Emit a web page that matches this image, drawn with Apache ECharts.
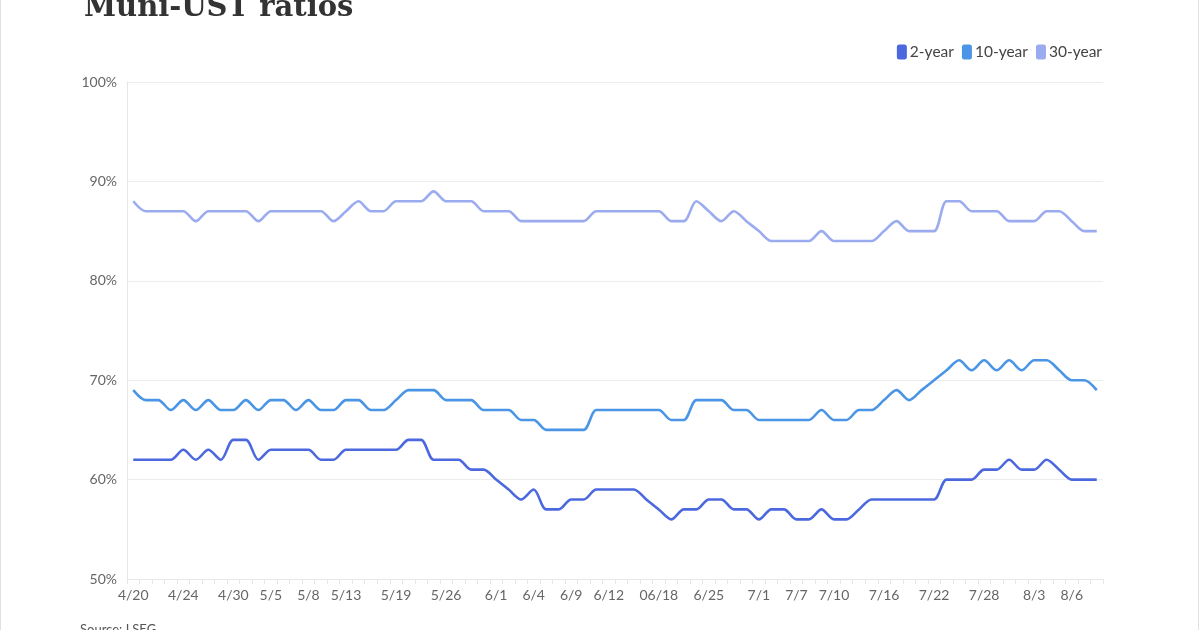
<!DOCTYPE html>
<html>
<head>
<meta charset="utf-8">
<script src="https://cdn.jsdelivr.net/npm/echarts@6/dist/echarts.min.js"></script>
<style>
html,body{margin:0;padding:0;background:#fff;}
#chart{width:1200px;height:630px;}
</style>
</head>
<body>
<div id="chart"></div>
<script>
const dates = ["4/20","4/21","4/22","4/23","4/24","4/27","4/28","4/29","4/30","5/1",
"5/4","5/5","5/6","5/7","5/8","5/11","5/12","5/13","5/14","5/15",
"5/18","5/19","5/20","5/21","5/22","5/26","5/27","5/28","5/29","6/1",
"6/2","6/3","6/4","6/5","6/8","6/9","6/10","6/11","6/12","6/15",
"6/16","6/17","06/18","6/19","6/22","6/24","6/25","6/26","6/29","6/30",
"7/1","7/2","7/6","7/7","7/8","7/9","7/10","7/13","7/14","7/15",
"7/16","7/17","7/20","7/21","7/22","7/23","7/24","7/27","7/28","7/29",
"7/30","7/31","8/3","8/4","8/5","8/6","8/7","8/10"];
const tickLabels = ["4/20","4/24","4/30","5/5","5/8","5/13","5/19","5/26","6/1","6/4","6/9","6/12","06/18","6/25","7/1","7/7","7/10","7/16","7/22","7/28","8/3","8/6"];
const yTicks = [50,60,70,80,90,100];

const twoYear = [62,62,62,62,63,62,63,62,64,64,
62,63,63,63,63,62,62,63,63,63,
63,63,64,64,62,62,62,61,61,60,
59,58,59,57,57,58,58,59,59,59,
59,58,57,56,57,57,58,58,57,57,
56,57,57,56,56,57,56,56,57,58,
58,58,58,58,58,60,60,60,61,61,
62,61,61,62,61,60,60,60];
const tenYear = [69,68,68,67,68,67,68,67,67,68,
67,68,68,67,68,67,67,68,68,67,
67,68,69,69,69,68,68,68,67,67,
67,66,66,65,65,65,65,67,67,67,
67,67,67,66,66,68,68,68,67,67,
66,66,66,66,66,67,66,66,67,67,
68,69,68,69,70,71,72,71,72,71,
72,71,72,72,71,70,70,69];
const thirtyYear = [88,87,87,87,87,86,87,87,87,87,
86,87,87,87,87,87,86,87,88,87,
87,88,88,88,89,88,88,88,87,87,
87,86,86,86,86,86,86,87,87,87,
87,87,87,86,86,88,87,86,87,86,
85,84,84,84,84,85,84,84,84,84,
85,86,85,85,85,88,88,87,87,87,
86,86,86,87,87,86,85,85];

const colors = ["#4b68de","#4a95e6","#9aabf0"];
const chart = echarts.init(document.getElementById('chart'), null, {renderer:'canvas'});
const mk = (name, data, c) => ({
  name, type:'line', data, smooth:0.3, symbol:'none',
  lineStyle:{width:2.6, color:c}, itemStyle:{color:c}
});
chart.setOption({
  animation:false,
  color: colors,
  title:{
    text:'Muni-UST ratios', left:79, top:-11,
    textStyle:{fontFamily:'DejaVu Serif', fontWeight:'bold', fontSize:29, color:'#333'}
  },
  legend:{
    right:93, top:39, itemWidth:10, itemHeight:15, itemGap:8,
    icon:'roundRect',
    textStyle:{fontFamily:'Lato', fontSize:15.5, color:'#444', padding:[0,0,0,-2]},
    data:['2-year','10-year','30-year']
  },
  grid:{left:127, right:97, top:82, bottom:51, containLabel:false},
  xAxis:{
    type:'category', data:dates, boundaryGap:true,
    axisLine:{lineStyle:{color:'#e6e6e6'}},
    axisTick:{show:true, interval:0, length:5, lineStyle:{color:'#e6e6e6'}},
    axisLabel:{
      interval:(i, v) => tickLabels.includes(v),
      fontFamily:'Lato', fontSize:14, color:'#666', margin:9
    },
    splitLine:{show:false}
  },
  yAxis:{
    type:'value', min:yTicks[0], max:yTicks[yTicks.length-1], interval:10,
    axisLine:{show:true, lineStyle:{color:'#e6e6e6'}},
    axisTick:{show:false},
    axisLabel:{formatter:'{value}%', fontFamily:'Lato', fontSize:14, color:'#666', margin:10},
    splitLine:{lineStyle:{color:'#ececec'}}
  },
  graphic:[
    {type:'text', left:80, top:623, style:{text:'Source: LSEG', fontFamily:'Lato', fontSize:13, fill:'#555'}},
    {type:'rect', shape:{x:0.5,y:-2,width:1198,height:640}, style:{fill:'none', stroke:'#e0e0e0', lineWidth:1}, silent:true}
  ],
  series:[
    mk('2-year', twoYear, colors[0]),
    mk('10-year', tenYear, colors[1]),
    mk('30-year', thirtyYear, colors[2])
  ]
});
</script>
</body>
</html>
